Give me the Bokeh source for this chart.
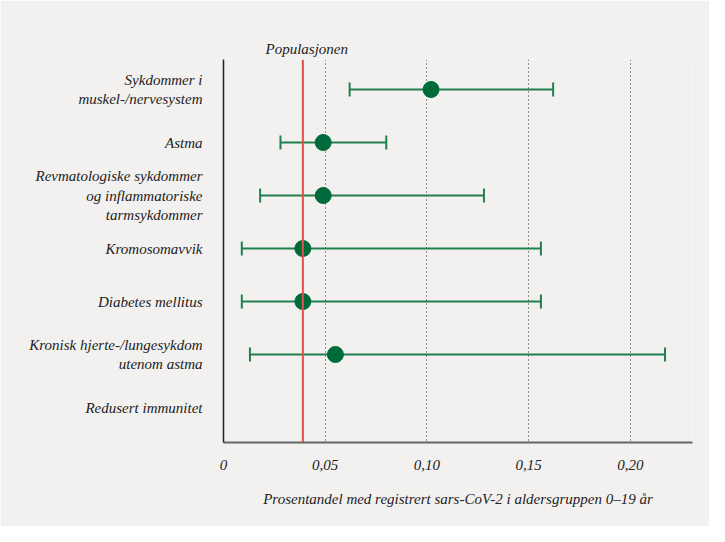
from bokeh.plotting import figure
from bokeh.models import Range1d, FixedTicker, Span
from bokeh.embed import file_html
from bokeh.resources import INLINE
import math

categories = [
    "Sykdommer i\nmuskel-/nervesystem",
    "Astma",
    "Revmatologiske sykdommer\nog inflammatoriske\ntarmsykdommer",
    "Kromosomavvik",
    "Diabetes mellitus",
    "Kronisk hjerte-/lungesykdom\nutenom astma",
    "Redusert immunitet",
]
estimate = [0.102, 0.049, 0.049, 0.039, 0.039, 0.055, float("nan")]
ci_low = [0.062, 0.028, 0.018, 0.009, 0.009, 0.013, float("nan")]
ci_high = [0.162, 0.080, 0.128, 0.156, 0.156, 0.217, float("nan")]
population = 0.039
x_ticks = [0, 0.05, 0.10, 0.15, 0.20]
x_tick_labels = ["0", "0,05", "0,10", "0,15", "0,20"]
x_title = "Prosentandel med registrert sars-CoV-2 i aldersgruppen 0–19 år"
pop_label = "Populasjonen"

FONT = "Liberation Serif"
BG = "#f2f1f0"
TXT = "#222222"

ys = list(range(len(categories)))
valid = [i for i in ys if not math.isnan(estimate[i])]

p = figure(width=709, height=526, output_backend="svg", toolbar_location=None,
           x_range=Range1d(0, 0.2305), y_range=Range1d(6.66, -0.566),
           min_border_left=223, min_border_right=17, min_border_top=59, min_border_bottom=84)
p.background_fill_color = BG
p.border_fill_color = BG
p.outline_line_color = None

# "Populasjonen" label above the population line
p.title.text = pop_label
p.title.align = "left"
p.title.offset = 42
p.title.standoff = 5
p.title.text_font = FONT
p.title.text_font_style = "italic"
p.title.text_font_size = "15px"
p.title.text_color = TXT

# grid
p.ygrid.grid_line_color = None
p.xgrid.ticker = FixedTicker(ticks=x_ticks[1:])
p.xgrid.grid_line_color = "#333333"
p.xgrid.grid_line_dash = "1 3"
p.xgrid.grid_line_width = 1

# population line
p.add_layout(Span(location=population, dimension="height", line_color="#e0504f", line_width=2))

# error bars
ev_y = [ys[i] for i in valid]
ev_lo = [ci_low[i] for i in valid]
ev_hi = [ci_high[i] for i in valid]
ev_est = [estimate[i] for i in valid]
p.segment(x0=ev_lo, y0=ev_y, x1=ev_hi, y1=ev_y, line_color="#21804d", line_width=2)
p.scatter(x=ev_lo, y=ev_y, marker="dash", angle=math.pi / 2, size=14, line_color="#21804d", line_width=2)
p.scatter(x=ev_hi, y=ev_y, marker="dash", angle=math.pi / 2, size=14, line_color="#21804d", line_width=2)
p.scatter(x=ev_est, y=ev_y, marker="circle", size=16, fill_color="#006b3a", line_color="#006b3a")

# x axis
p.xaxis.ticker = FixedTicker(ticks=x_ticks)
p.xaxis.major_label_overrides = {t: l for t, l in zip(x_ticks, x_tick_labels)}
p.xaxis.major_tick_line_color = None
p.xaxis.minor_tick_line_color = None
p.xaxis.axis_line_color = "#666666"
p.xaxis.axis_line_width = 2
p.xaxis.major_label_standoff = 11
p.xaxis.major_label_text_font = FONT
p.xaxis.major_label_text_font_style = "italic"
p.xaxis.major_label_text_font_size = "15px"
p.xaxis.major_label_text_color = TXT
p.xaxis.axis_label = x_title
p.xaxis.axis_label_text_font = FONT
p.xaxis.axis_label_text_font_style = "italic"
p.xaxis.axis_label_text_font_size = "15px"
p.xaxis.axis_label_text_color = TXT
p.xaxis.axis_label_standoff = 18

# y axis
p.yaxis.ticker = FixedTicker(ticks=ys)
p.yaxis.major_label_overrides = {y: c for y, c in zip(ys, categories)}
p.yaxis.major_tick_line_color = None
p.yaxis.minor_tick_line_color = None
p.yaxis.axis_line_color = "#222222"
p.yaxis.axis_line_width = 1.5
p.yaxis.major_label_standoff = 15
p.yaxis.major_label_text_font = FONT
p.yaxis.major_label_text_font_style = "italic"
p.yaxis.major_label_text_font_size = "15px"
p.yaxis.major_label_text_color = TXT
p.yaxis.major_label_text_line_height = 1.2

open("out.html", "w").write(file_html(p, INLINE))
